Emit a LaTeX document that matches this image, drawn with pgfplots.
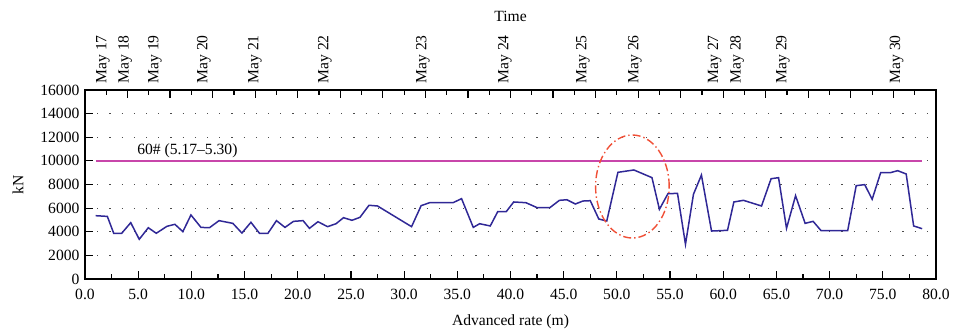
\documentclass[border=0pt]{standalone}
\usepackage{pgfplots}
\pgfplotsset{compat=1.18}
\usepackage{fontspec}
\setmainfont{Liberation Serif}
\definecolor{lineblue}{RGB}{48,40,150}
\definecolor{limpink}{RGB}{200,70,170}
\definecolor{ellred}{RGB}{240,80,55}
\pgfplotstableread{
x y
1.0 5360
2.1 5300
2.7 3870
3.45 3870
4.3 4770
5.1 3360
5.95 4340
6.7 3870
7.7 4460
8.45 4630
9.2 4010
9.96 5420
10.9 4370
11.7 4340
12.6 4940
13.9 4710
14.75 3890
15.6 4800
16.4 3870
17.2 3870
18.0 4940
18.8 4370
19.6 4880
20.5 4940
21.1 4290
21.9 4850
22.8 4430
23.6 4680
24.3 5190
25.1 4970
25.85 5220
26.7 6240
27.5 6180
30.7 4430
31.6 6210
32.4 6460
34.6 6460
35.4 6800
36.5 4370
37.1 4680
38.1 4490
38.8 5700
39.6 5700
40.3 6520
41.45 6460
42.5 6040
43.7 6040
44.6 6660
45.3 6710
46.1 6350
46.8 6600
47.5 6630
48.3 5080
49.05 4910
50.1 9030
51.6 9230
53.3 8580
54.0 5900
54.8 7220
55.7 7250
56.45 2940
57.2 7170
57.95 8800
58.9 4060
60.4 4120
61.0 6520
61.9 6660
63.6 6180
64.5 8490
65.2 8580
65.95 4290
66.8 7050
67.7 4710
68.45 4880
69.2 4090
71.7 4090
72.5 7900
73.3 7990
74.0 6750
74.8 9000
75.7 9000
76.4 9170
77.2 8890
77.9 4490
78.7 4260
}\loaddata
\begin{document}
\fontsize{7.8}{9.4}\selectfont
\begin{tikzpicture}
\begin{axis}[
  at={(0,0)}, anchor=south west,
  width=425.5pt, height=94.5pt, scale only axis,
  xmin=0, xmax=80, ymin=0, ymax=16000,
  xtick={0,5,...,80}, minor x tick num=1,
  ytick={0,2000,...,16000},
  xtick pos=bottom, ytick pos=left,
  tick align=inside,
  major tick length=4pt, minor tick length=2.5pt,
  /pgf/number format/assume math mode=true,
  xticklabel={\pgfmathprintnumber[fixed,fixed zerofill,precision=1]{\tick}},
  yticklabel style={/pgf/number format/fixed, /pgf/number format/1000 sep={}},
  scaled y ticks=false,
  x tick label style={yshift=-2.5pt},
  ymajorgrids,
  major grid style={black!70, line width=0.5pt, dash pattern=on 0.6pt off 5.5pt},
  xlabel={Advanced rate (m)},
  ylabel={kN},
  xlabel style={at={(axis description cs:0.5,0)}, anchor=north, yshift=-15pt},
  ylabel style={at={(axis description cs:0,0.5)}, anchor=south, xshift=0pt, yshift=28pt},
  tick style={black, line width=0.6pt},
  axis line style={line width=0.7pt},
  clip=false,
]
\addplot[limpink, line width=0.8pt] coordinates {(1.0,10000) (78.7,10000)};
\addplot[lineblue, line width=0.75pt] table[x=x,y=y] {\loaddata};
\node[anchor=base, font=\fontsize{7.8}{9.4}\selectfont] at (axis cs:9.63,10500) {60\# (5.17--5.30)};
\draw[ellred, line width=0.7pt, dash pattern=on 4pt off 1.5pt on 0.7pt off 1.5pt] (axis cs:51.46,7830) ellipse [x radius=3.46, y radius=4360];
\end{axis}
\begin{axis}[
  at={(0,0)}, anchor=south west,
  width=425.5pt, height=94.5pt, scale only axis,
  xmin=0, xmax=80, ymin=0, ymax=16000,
  axis x line*=top, axis y line=none,
  xtick={0,4,...,80}, xticklabels={}, minor x tick num=1,
  tick align=inside,
  major tick length=4pt, minor tick length=2.5pt,
  tick style={black, line width=0.6pt},
  axis line style={line width=0.7pt},
  extra x ticks={1.69,3.76,6.58,11.18,15.98,22.56,31.77,39.47,46.8,51.7,59.2,61.3,65.6,76.3},
  extra x tick labels={May 17,May 18,May 19,May 20,May 21,May 22,May 23,May 24,May 25,May 26,May 27,May 28,May 29,May 30},
  extra x tick style={major tick length=0pt, tick label style={rotate=90, anchor=west, xshift=0.5pt}},
  xlabel={Time},
  xlabel style={at={(axis description cs:0.5,1)}, anchor=base, yshift=34pt},
]
\addplot[draw=none] coordinates {(0,0) (80,0)};
\end{axis}
\pgfresetboundingbox
\path (-42.5pt,-26.5pt) rectangle (434pt,139.5pt);
\end{tikzpicture}
\end{document}
